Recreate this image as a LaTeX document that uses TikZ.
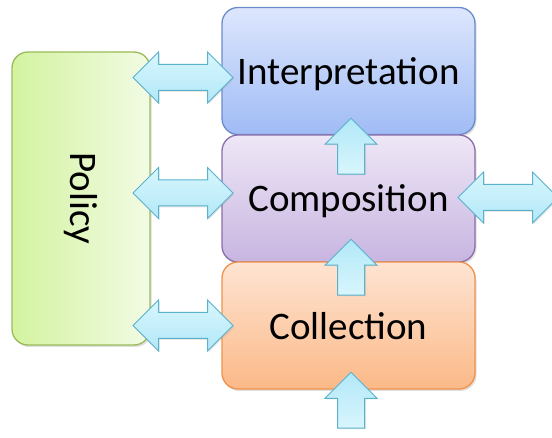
\documentclass[tikz,border=0pt]{standalone}
\usepackage{fontspec}
\setmainfont{Carlito}
\usetikzlibrary{shapes.arrows,shadows}

\definecolor{policyL}{HTML}{D3F3A0}
\definecolor{policyR}{HTML}{F2FBE4}
\definecolor{policyD}{HTML}{9BBB59}
\definecolor{interpT}{HTML}{DDE6FD}
\definecolor{interpB}{HTML}{A0BCF5}
\definecolor{interpD}{HTML}{6A8CCB}
\definecolor{composT}{HTML}{EEE7F6}
\definecolor{composB}{HTML}{C8B5E1}
\definecolor{composD}{HTML}{8A6DAA}
\definecolor{collecT}{HTML}{FEE4D2}
\definecolor{collecB}{HTML}{FBB988}
\definecolor{collecD}{HTML}{F0924A}
\definecolor{arrowT}{HTML}{D8F6FD}
\definecolor{arrowB}{HTML}{B2E8F8}
\definecolor{arrowD}{HTML}{5AB2CC}

\tikzset{
  layer/.style={rectangle, rounded corners=16pt, line width=1.3pt,
    minimum width=253pt, minimum height=127pt, text depth=0pt,
    font=\fontsize{39}{41}\selectfont,
    drop shadow={opacity=0.25, shadow xshift=1.5pt, shadow yshift=-2pt}},
  link/.style={double arrow, double arrow head extend=12.5pt,
    minimum height=100pt, minimum width=50pt, inner xsep=0pt, inner ysep=12.5pt,
    draw=arrowD, line width=1pt, top color=arrowT, bottom color=arrowB,
    drop shadow={opacity=0.2, shadow xshift=1pt, shadow yshift=-1.5pt}},
  lift/.style={single arrow, single arrow head extend=12.5pt, rotate=90,
    minimum height=56pt, minimum width=50pt, inner xsep=0pt, inner ysep=13pt,
    draw=arrowD, line width=1pt, top color=arrowB, bottom color=arrowT,
    drop shadow={opacity=0.2, shadow xshift=1.5pt, shadow yshift=-1pt}},
}

\begin{document}
\begin{tikzpicture}[x=1pt, y=-1pt]
\useasboundingbox (0,0) rectangle (552,438);

% policy column
\node[rectangle, rounded corners=16pt, line width=1.3pt, draw=policyD,
  left color=policyL, right color=policyR,
  minimum width=138pt, minimum height=293pt,
  drop shadow={opacity=0.25, shadow xshift=1.5pt, shadow yshift=-2pt}]
  (policy) at (81,198.5) {};
\node[rotate=-90, font=\fontsize{39}{41}\selectfont] (policytxt) at (policy) {Policy};

% the three stacked layers
\node[layer, draw=interpD, top color=interpT, bottom color=interpB]
  (interp) at (348.5,71) {Interpretation};
\node[layer, draw=composD, top color=composT, bottom color=composB]
  (compos) at (348.5,198.5) {Composition};
\node[layer, draw=collecD, top color=collecT, bottom color=collecB]
  (collec) at (348.5,325.5) {Collection};

% links to policy
\node[link] (pi) at (183,77.5) {};
\node[link] (pm) at (183,193) {};
\node[link] (pc) at (183,325.5) {};

% upward flow
\node[lift] (up1) at (351,153) {};
\node[lift] (up2) at (351,274) {};
\node[lift] (up0) at (351,407) {};

% outward link
\node[link] (out) at (508,197.5) {};
\end{tikzpicture}
\end{document}
